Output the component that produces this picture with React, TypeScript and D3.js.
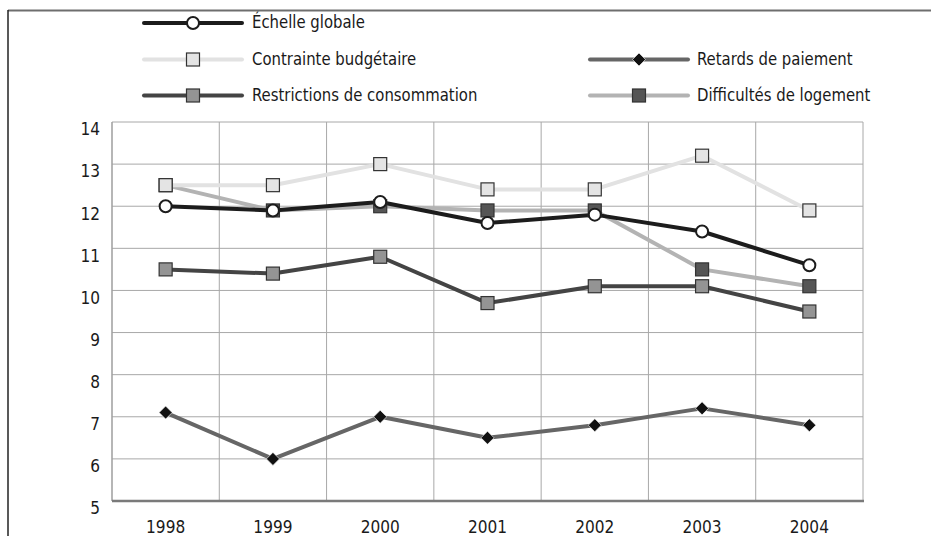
import React, { useEffect } from 'react';
import * as d3 from 'd3';

const years = ['1998', '1999', '2000', '2001', '2002', '2003', '2004'];
const yTicks = [5, 6, 7, 8, 9, 10, 11, 12, 13, 14];

const echelleGlobale = [12.0, 11.9, 12.1, 11.6, 11.8, 11.4, 10.6];
const contrainteBudgetaire = [12.5, 12.5, 13.0, 12.4, 12.4, 13.2, 11.9];
const retardsPaiement = [7.1, 6.0, 7.0, 6.5, 6.8, 7.2, 6.8];
const restrictionsConso = [10.5, 10.4, 10.8, 9.7, 10.1, 10.1, 9.5];
const difficultesLogement = [12.5, 11.9, 12.0, 11.9, 11.9, 10.5, 10.1];

type Marker = 'circle' | 'square' | 'diamond';

interface Series {
  name: string;
  values: number[];
  line: string;
  fill: string;
  marker: Marker;
  legend: [number, number]; // column, row
}

// draw order: first drawn sits underneath
const series: Series[] = [
  { name: 'Difficultés de logement', values: difficultesLogement, line: '#b3b3b3', fill: '#555555', marker: 'square', legend: [1, 2] },
  { name: 'Restrictions de consommation', values: restrictionsConso, line: '#444444', fill: '#949494', marker: 'square', legend: [0, 2] },
  { name: 'Retards de paiement', values: retardsPaiement, line: '#666666', fill: '#111111', marker: 'diamond', legend: [1, 1] },
  { name: 'Contrainte budgétaire', values: contrainteBudgetaire, line: '#e2e2e2', fill: '#e4e4e4', marker: 'square', legend: [0, 1] },
  { name: 'Échelle globale', values: echelleGlobale, line: '#1c1c1c', fill: '#ffffff', marker: 'circle', legend: [0, 0] },
];

const W = 931;
const H = 536;
const plot = { left: 112, right: 863, top: 122, bottom: 501 };
const font = "'Liberation Sans Narrow', 'DejaVu Sans Condensed', 'Roboto Condensed', sans-serif";

// condensed-looking text: squeeze the glyphs horizontally
const Label: React.FC<{ x: number; y: number; anchor?: string; size?: number; sx?: number; children: React.ReactNode }> = ({
  x, y, anchor = 'start', size = 18, sx = 0.92, children,
}) => (
  <g transform={`translate(${x},${y}) scale(${sx},1)`}>
    <text dy="0.35em" textAnchor={anchor} fontFamily={font} fontSize={size} fill="#1a1a1a">
      {children}
    </text>
  </g>
);

const MarkerShape: React.FC<{ type: Marker; x: number; y: number; fill: string; stroke: string }> = ({ type, x, y, fill, stroke }) => {
  if (type === 'circle') {
    return <circle cx={x} cy={y} r={6} fill={fill} stroke={stroke} strokeWidth={2} />;
  }
  if (type === 'square') {
    return <rect x={x - 6.5} y={y - 6.5} width={13} height={13} fill={fill} stroke="#333" strokeWidth={1.2} />;
  }
  const s = 6.5;
  return <path d={`M${x},${y - s}L${x + s},${y}L${x},${y + s}L${x - s},${y}Z`} fill={fill} stroke="#fff" strokeWidth={0.6} />;
};

export default function App() {
  useEffect(() => {
    document.body.style.margin = '0';
  }, []);

  const x = d3.scaleBand<string>().domain(years).range([plot.left, plot.right]).padding(0);
  const y = d3.scaleLinear().domain([5, 14]).range([plot.bottom, plot.top]);
  const cx = (yr: string) => (x(yr) ?? 0) + x.bandwidth() / 2;

  const line = d3
    .line<number>()
    .x((_, i) => cx(years[i]))
    .y((d) => y(d));

  const legendCols = [
    { x0: 144, x1: 242, text: 252 },
    { x0: 590, x1: 688, text: 697 },
  ];
  const legendRows = [23, 59.5, 95.5];

  return (
    <svg width={W} height={H} style={{ display: 'block', background: '#fff' }}>
      {/* frame */}
      <line x1={8} x2={W} y1={10.5} y2={10.5} stroke="#6e6e6e" strokeWidth={2} />
      <line x1={8} x2={8} y1={10} y2={H} stroke="#222" strokeWidth={1.5} />

      {/* legend */}
      {series.map((s) => {
        const col = legendCols[s.legend[0]];
        const ly = legendRows[s.legend[1]];
        const mx = (col.x0 + col.x1) / 2;
        return (
          <g key={'lg' + s.name}>
            <line x1={col.x0} x2={col.x1} y1={ly} y2={ly} stroke={s.line} strokeWidth={4} strokeLinecap="round" />
            <MarkerShape type={s.marker} x={mx} y={ly} fill={s.fill} stroke={s.line} />
            <Label x={col.text} y={ly - 1}>{s.name}</Label>
          </g>
        );
      })}

      {/* grid */}
      {yTicks.map((t) => (
        <line key={'gy' + t} x1={plot.left} x2={plot.right} y1={y(t)} y2={y(t)} stroke="#a8a8a8" strokeWidth={1} />
      ))}
      {years.map((yr) => (
        <line key={'gx' + yr} x1={x(yr)} x2={x(yr)} y1={plot.top} y2={plot.bottom} stroke="#a8a8a8" strokeWidth={1} />
      ))}
      <line x1={plot.right} x2={plot.right} y1={plot.top} y2={plot.bottom} stroke="#a8a8a8" strokeWidth={1} />
      <line x1={plot.left} x2={plot.left} y1={plot.top} y2={plot.bottom} stroke="#999" strokeWidth={1} />
      <line x1={plot.left} x2={plot.right + 1} y1={plot.bottom} y2={plot.bottom} stroke="#7a7a7a" strokeWidth={2.5} />

      {/* y labels */}
      {yTicks.map((t) => (
        <Label key={'ty' + t} x={100} y={y(t) + 7} anchor="end" sx={0.95}>
          {t}
        </Label>
      ))}
      {/* x labels */}
      {years.map((yr) => (
        <Label key={'tx' + yr} x={cx(yr)} y={527} anchor="middle" sx={0.95}>
          {yr}
        </Label>
      ))}

      {/* lines */}
      {series.map((s) => (
        <path key={'l' + s.name} d={line(s.values) ?? ''} fill="none" stroke={s.line} strokeWidth={4} strokeLinejoin="round" />
      ))}
      {/* markers */}
      {series.map((s) => (
        <g key={'m' + s.name}>
          {s.values.map((v, i) => (
            <MarkerShape key={i} type={s.marker} x={cx(years[i])} y={y(v)} fill={s.fill} stroke={s.line} />
          ))}
        </g>
      ))}
    </svg>
  );
}
